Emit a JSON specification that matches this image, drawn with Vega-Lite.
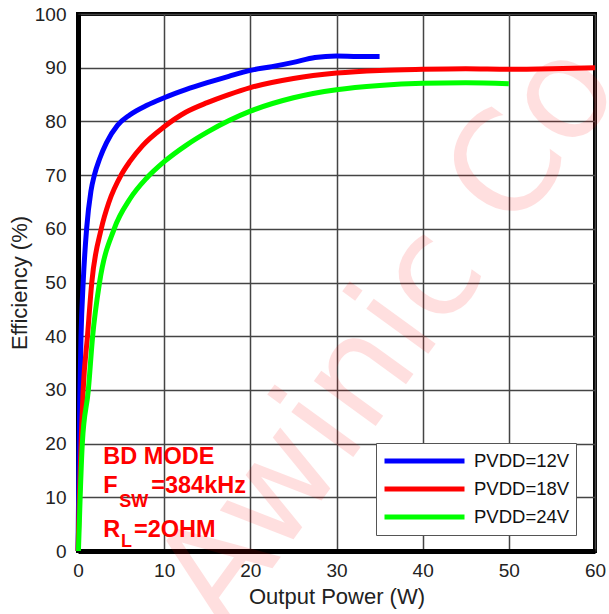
{
  "$schema": "https://vega.github.io/schema/vega-lite/v6.json",
  "width": 517,
  "height": 537,
  "autosize": {"type": "none"},
  "padding": {"left": 78, "top": 14, "right": 14, "bottom": 63},
  "background": "white",
  "config": {
    "font": "Liberation Sans",
    "view": {"stroke": "black", "strokeWidth": 4},
    "axis": {
      "grid": true,
      "gridColor": "#444",
      "gridWidth": 1.5,
      "gridOpacity": 1,
      "domainColor": "black",
      "domainWidth": 5,
      "ticks": false,
      "labelFont": "Liberation Sans",
      "labelFontSize": 19,
      "labelColor": "#222",
      "titleFont": "Liberation Sans",
      "titleFontSize": 22,
      "titleFontWeight": "normal",
      "titleColor": "#222"
    }
  },
  "datasets": {
    "curves": [
      {"P": 0, "E": 0, "s": "PVDD=12V"},
      {"P": 0.1, "E": 15, "s": "PVDD=12V"},
      {"P": 0.2, "E": 28, "s": "PVDD=12V"},
      {"P": 0.35, "E": 40, "s": "PVDD=12V"},
      {"P": 0.6, "E": 50, "s": "PVDD=12V"},
      {"P": 1.0, "E": 60, "s": "PVDD=12V"},
      {"P": 1.5, "E": 67, "s": "PVDD=12V"},
      {"P": 1.9, "E": 70, "s": "PVDD=12V"},
      {"P": 2.5, "E": 73, "s": "PVDD=12V"},
      {"P": 3.3, "E": 76, "s": "PVDD=12V"},
      {"P": 4.6, "E": 79.3, "s": "PVDD=12V"},
      {"P": 6, "E": 81.2, "s": "PVDD=12V"},
      {"P": 8, "E": 83, "s": "PVDD=12V"},
      {"P": 10, "E": 84.4, "s": "PVDD=12V"},
      {"P": 12.5, "E": 85.9, "s": "PVDD=12V"},
      {"P": 15, "E": 87.2, "s": "PVDD=12V"},
      {"P": 17.5, "E": 88.4, "s": "PVDD=12V"},
      {"P": 20, "E": 89.5, "s": "PVDD=12V"},
      {"P": 22.5, "E": 90.2, "s": "PVDD=12V"},
      {"P": 25, "E": 91, "s": "PVDD=12V"},
      {"P": 27.5, "E": 91.9, "s": "PVDD=12V"},
      {"P": 30, "E": 92.2, "s": "PVDD=12V"},
      {"P": 32.5, "E": 92.1, "s": "PVDD=12V"},
      {"P": 35, "E": 92.1, "s": "PVDD=12V"},
      {"P": 0, "E": 0, "s": "PVDD=18V"},
      {"P": 0.2, "E": 12, "s": "PVDD=18V"},
      {"P": 0.4, "E": 22, "s": "PVDD=18V"},
      {"P": 0.6, "E": 30, "s": "PVDD=18V"},
      {"P": 1.1, "E": 40, "s": "PVDD=18V"},
      {"P": 1.6, "E": 50, "s": "PVDD=18V"},
      {"P": 2.7, "E": 60, "s": "PVDD=18V"},
      {"P": 3.6, "E": 65, "s": "PVDD=18V"},
      {"P": 5, "E": 70, "s": "PVDD=18V"},
      {"P": 6, "E": 72.5, "s": "PVDD=18V"},
      {"P": 7.5, "E": 75.5, "s": "PVDD=18V"},
      {"P": 10, "E": 79, "s": "PVDD=18V"},
      {"P": 12.5, "E": 81.7, "s": "PVDD=18V"},
      {"P": 15, "E": 83.5, "s": "PVDD=18V"},
      {"P": 17.5, "E": 85, "s": "PVDD=18V"},
      {"P": 20, "E": 86.3, "s": "PVDD=18V"},
      {"P": 25, "E": 88, "s": "PVDD=18V"},
      {"P": 30, "E": 89, "s": "PVDD=18V"},
      {"P": 35, "E": 89.5, "s": "PVDD=18V"},
      {"P": 40, "E": 89.7, "s": "PVDD=18V"},
      {"P": 45, "E": 89.8, "s": "PVDD=18V"},
      {"P": 50, "E": 89.7, "s": "PVDD=18V"},
      {"P": 55, "E": 89.8, "s": "PVDD=18V"},
      {"P": 60, "E": 90, "s": "PVDD=18V"},
      {"P": 0.05, "E": 0, "s": "PVDD=24V"},
      {"P": 0.15, "E": 5, "s": "PVDD=24V"},
      {"P": 0.25, "E": 10, "s": "PVDD=24V"},
      {"P": 0.5, "E": 20, "s": "PVDD=24V"},
      {"P": 1.2, "E": 30, "s": "PVDD=24V"},
      {"P": 1.7, "E": 40, "s": "PVDD=24V"},
      {"P": 2.5, "E": 50, "s": "PVDD=24V"},
      {"P": 4.2, "E": 60, "s": "PVDD=24V"},
      {"P": 6, "E": 65.5, "s": "PVDD=24V"},
      {"P": 8, "E": 69.5, "s": "PVDD=24V"},
      {"P": 10, "E": 72.5, "s": "PVDD=24V"},
      {"P": 12.5, "E": 75.5, "s": "PVDD=24V"},
      {"P": 15, "E": 78, "s": "PVDD=24V"},
      {"P": 20, "E": 81.9, "s": "PVDD=24V"},
      {"P": 25, "E": 84.4, "s": "PVDD=24V"},
      {"P": 30, "E": 85.9, "s": "PVDD=24V"},
      {"P": 35, "E": 86.7, "s": "PVDD=24V"},
      {"P": 40, "E": 87.1, "s": "PVDD=24V"},
      {"P": 45, "E": 87.2, "s": "PVDD=24V"},
      {"P": 50, "E": 87, "s": "PVDD=24V"}
    ],
    "notes": [
      {"P": 2.94, "E": 17.5, "t": "BD MODE"},
      {"P": 2.94, "E": 12.1, "t": "F"},
      {"P": 8.5, "E": 12.1, "t": "=384kHz"},
      {"P": 2.94, "E": 3.9, "t": "R"},
      {"P": 6.5, "E": 3.9, "t": "=2OHM"}
    ],
    "subs": [
      {"P": 4.8, "E": 9.1, "t": "SW"},
      {"P": 5.0, "E": 1.7, "t": "L"}
    ],
    "wm": [
      {"P": 36.2, "E": 40.2, "t": "Awinic Co"}
    ]
  },
  "encoding": {
    "x": {"field": "P", "type": "quantitative", "scale": {"domain": [0, 60], "nice": false},
          "axis": {"title": "Output Power (W)", "values": [0, 10, 20, 30, 40, 50, 60], "labelPadding": 10, "titlePadding": 6, "labelFlush": false}},
    "y": {"field": "E", "type": "quantitative", "scale": {"domain": [0, 100], "nice": false},
          "axis": {"title": "Efficiency (%)", "values": [0, 10, 20, 30, 40, 50, 60, 70, 80, 90, 100], "labelPadding": 12, "titlePadding": 3, "labelFlush": false}}
  },
  "layer": [
    {
      "data": {"name": "wm"},
      "mark": {"type": "text", "font": "DejaVu Sans", "fontWeight": "normal", "fontSize": 140, "angle": -54, "color": "#ff0000", "opacity": 0.12, "align": "center", "baseline": "middle"},
      "encoding": {"text": {"field": "t"}}
    },
    {
      "data": {"name": "curves"},
      "mark": {"type": "line", "strokeWidth": 5, "interpolate": "monotone"},
      "encoding": {
        "color": {"field": "s", "type": "nominal",
          "scale": {"domain": ["PVDD=12V", "PVDD=18V", "PVDD=24V"], "range": ["#0000ff", "#ff0000", "#00ff00"]},
          "legend": {"title": null, "orient": "none", "legendX": 298, "legendY": 429, "symbolType": "stroke", "symbolSize": 6400, "symbolStrokeWidth": 5, "clipHeight": 24, "rowPadding": 4, "padding": 6, "labelFontSize": 18.5, "labelColor": "#111", "labelFont": "Liberation Sans", "labelOffset": 7, "strokeColor": "#555", "fillColor": "white"}
        }
      }
    },
    {
      "data": {"name": "notes"},
      "mark": {"type": "text", "font": "Liberation Sans", "fontSize": 23.5, "fontWeight": "bold", "color": "#ff0000", "align": "left", "baseline": "middle"},
      "encoding": {"text": {"field": "t"}}
    },
    {
      "data": {"name": "subs"},
      "mark": {"type": "text", "font": "Liberation Sans", "fontSize": 18, "fontWeight": "bold", "color": "#ff0000", "align": "left", "baseline": "middle"},
      "encoding": {"text": {"field": "t"}}
    }
  ]
}
